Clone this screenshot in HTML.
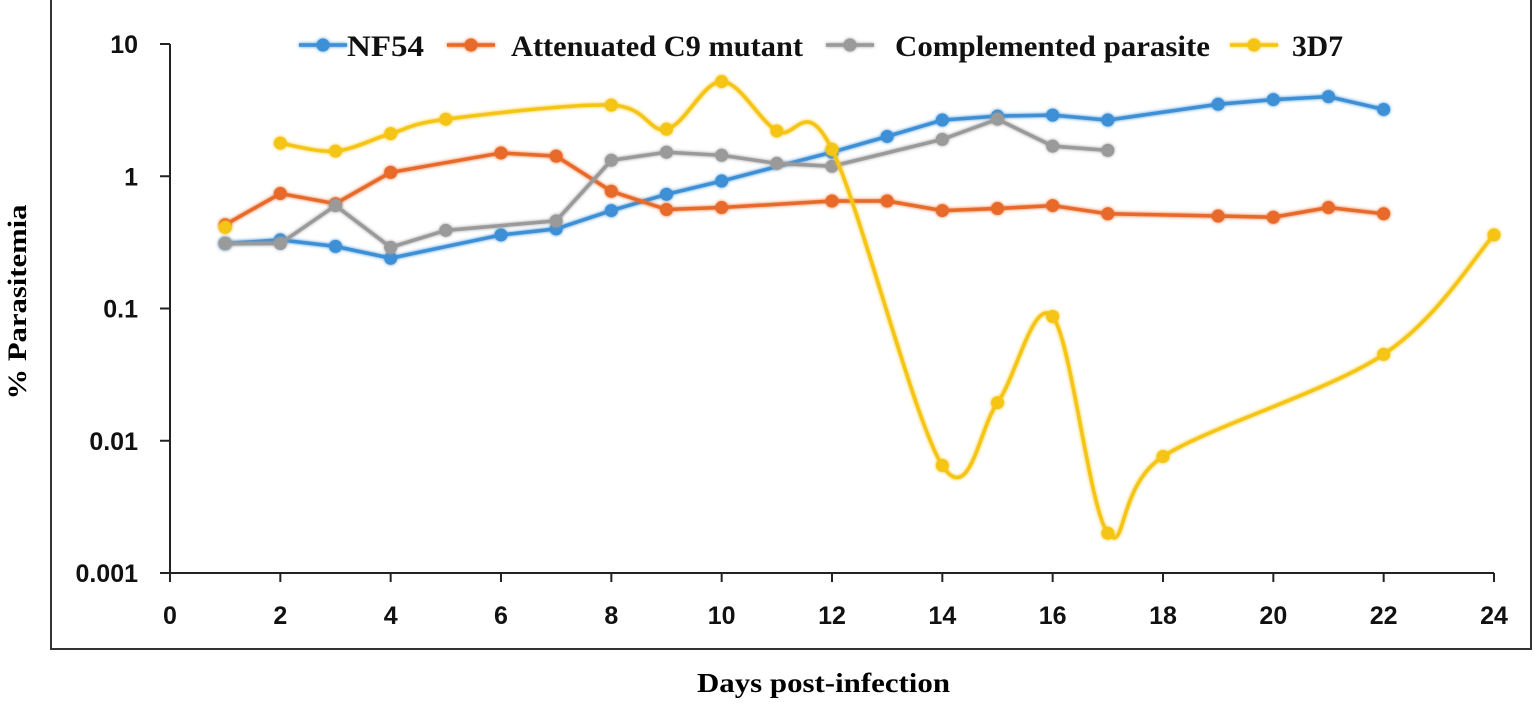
<!DOCTYPE html>
<html><head><meta charset="utf-8"><style>
body{margin:0;background:#fff;width:1536px;height:705px;overflow:hidden}
svg text{font-family:"Liberation Sans",sans-serif}
.serif{font-family:"Liberation Serif",serif;font-weight:bold}
</style></head><body>
<svg id="chart" width="1536" height="705" xmlns="http://www.w3.org/2000/svg">
<defs><filter id="glow" x="-20%" y="-20%" width="140%" height="140%"><feGaussianBlur stdDeviation="1.6" result="b"/><feMerge><feMergeNode in="b"/><feMergeNode in="SourceGraphic"/></feMerge></filter></defs>
<rect x="51" y="-2" width="1480" height="651" fill="none" stroke="#333" stroke-width="2"/>
<g id="axes"></g><g id="series"></g>
<text class="serif" font-size="26" textLength="195" lengthAdjust="spacingAndGlyphs" transform="translate(26,302) rotate(-90)" text-anchor="middle">% Parasitemia</text>
<text class="serif" font-size="27" textLength="253" lengthAdjust="spacingAndGlyphs" x="697" y="692">Days post-infection</text>
<g id="legend"></g>
</svg>
<script>
const xTicks=[0,2,4,6,8,10,12,14,16,18,20,22,24];
const yTicks=[10,1,0.1,0.01,0.001];
const yTickLabels=["10","1","0.1","0.01","0.001"];
const nf54Days=[1,2,3,4,6,7,8,9,10,12,13,14,15,16,17,19,20,21,22];
const nf54Values=[0.31,0.33,0.295,0.24,0.36,0.40,0.55,0.73,0.92,1.52,2.0,2.66,2.85,2.9,2.66,3.5,3.8,4.0,3.2];
const c9Days=[1,2,3,4,6,7,8,9,10,12,13,14,15,16,17,19,20,21,22];
const c9Values=[0.43,0.74,0.62,1.07,1.5,1.42,0.77,0.56,0.58,0.65,0.65,0.55,0.57,0.60,0.52,0.5,0.49,0.58,0.52];
const compDays=[1,2,3,4,5,7,8,9,10,11,12,14,15,16,17];
const compValues=[0.31,0.31,0.6,0.29,0.39,0.46,1.32,1.52,1.44,1.25,1.19,1.9,2.7,1.69,1.57];
const d3d7Days=[1,2,3,4,5,8,9,10,11,12,14,15,16,17,18,22,24];
const d3d7Values=[0.41,1.78,1.55,2.1,2.7,3.45,2.27,5.2,2.2,1.6,0.0065,0.0194,0.087,0.002,0.0076,0.045,0.36];
const seriesNames=["NF54","Attenuated C9 mutant","Complemented parasite","3D7"];

const NS="http://www.w3.org/2000/svg";
const X0=170,X1=1494,Y10=44,DEC=132.25;
const xs=d=>X0+(X1-X0)*d/24;
const ys=v=>Y10+(1-Math.log10(v))*DEC;
function mk(t,a,p){const e=document.createElementNS(NS,t);for(const k in a)e.setAttribute(k,a[k]);p.appendChild(e);return e;}
const axes=document.getElementById('axes');
let yl=mk('line',{x1:X0,y1:Y10,x2:X0,y2:ys(0.001),stroke:'#222','stroke-width':2},axes);


let xl=mk('line',{x1:X0-10,y1:ys(0.001),x2:X1,y2:ys(0.001),stroke:'#222','stroke-width':2},axes);


yTicks.forEach((v,i)=>{
 mk('line',{x1:X0-10,y1:ys(v),x2:X0,y2:ys(v),stroke:'#222','stroke-width':2},axes);
 const t=mk('text',{x:138,y:ys(v)+9,'text-anchor':'end','font-size':25,'font-weight':'bold',fill:'#111'},axes);
 t.textContent=yTickLabels[i];
 
 
});
xTicks.forEach(d=>{
 mk('line',{x1:xs(d),y1:ys(0.001),x2:xs(d),y2:ys(0.001)+9,stroke:'#222','stroke-width':2},axes);
 const t=mk('text',{x:xs(d),y:624,'text-anchor':'middle','font-size':25,'font-weight':'bold',fill:'#111'},axes);
 t.textContent=d;
 
 
});
function catmull(p){let s=`M${p[0][0]},${p[0][1]}`;for(let i=0;i<p.length-1;i++){const a=p[i-1]||p[i],b=p[i],c=p[i+1],d=p[i+2]||c;s+=` C${b[0]+(c[0]-a[0])/6},${b[1]+(c[1]-a[1])/6} ${c[0]-(d[0]-b[0])/6},${c[1]-(d[1]-b[1])/6} ${c[0]},${c[1]}`;}return s;}
const ser=document.getElementById('series');
const defs=[[nf54Days,nf54Values,'#3d8fd6','nf54',false],[c9Days,c9Values,'#e86a2a','c9-mutant',false],[compDays,compValues,'#9a9a9a','complemented',false],[d3d7Days,d3d7Values,'#f5c518','3d7',true]];
defs.forEach(([D,V,col,nm,smooth])=>{
 const g=mk('g',{filter:'url(#glow)'},ser);
 
 
 const pts=D.map((d,i)=>[xs(d),ys(V[i])]);
 const lp=smooth?pts.slice(1):pts;
 const path=mk('path',{d:smooth?catmull(lp):'M'+lp.map(p=>p.join(',')).join(' L'),fill:'none',stroke:col,'stroke-width':3.5},g);
 
 
 pts.forEach(p=>{const c=mk('circle',{cx:p[0],cy:p[1],r:6.5,fill:col},g);
  
  });
});
const lg=document.getElementById('legend');
const lx=[299,447,826,1230];
const tx=[347,511,895,1292];
const tw=[77,292,315,51];
defs.forEach((s,i)=>{
 const g=mk('g',{filter:'url(#glow)'},lg);
 
 
 mk('line',{x1:lx[i],y1:45,x2:lx[i]+48,y2:45,stroke:s[2],'stroke-width':3.5},g);
 mk('circle',{cx:lx[i]+24,cy:45,r:6.5,fill:s[2]},g);
 const t=mk('text',{x:tx[i],y:56,'font-size':30,fill:'#111',class:'serif',textLength:tw[i],lengthAdjust:'spacingAndGlyphs'},lg);
 t.textContent=seriesNames[i];
 
 
});
</script>
</body></html>
